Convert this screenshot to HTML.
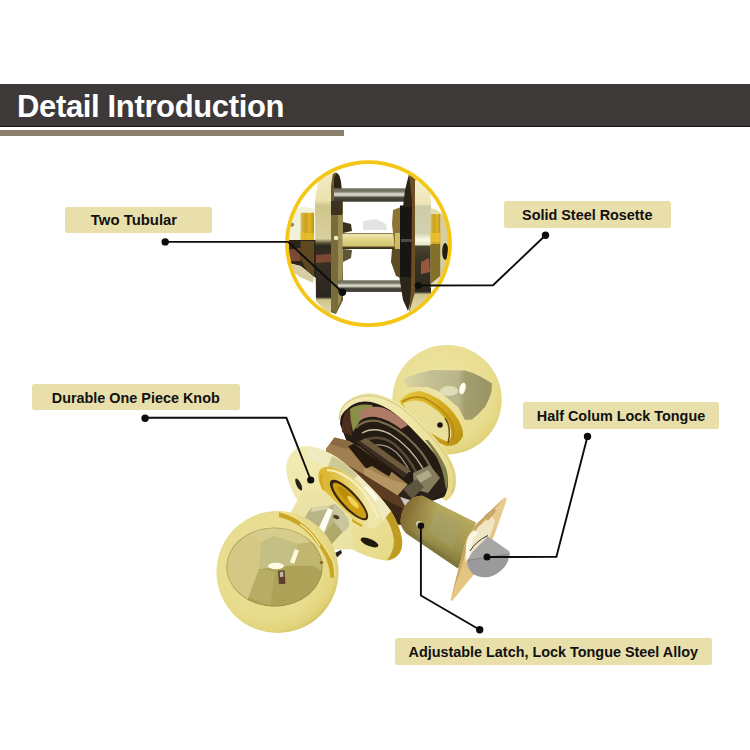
<!DOCTYPE html>
<html>
<head>
<meta charset="utf-8">
<title>Detail Introduction</title>
<style>
html,body{margin:0;padding:0;background:#fff;}
body{width:750px;height:750px;position:relative;overflow:hidden;font-family:"Liberation Sans",sans-serif;}
#bar{position:absolute;left:0;top:84px;width:750px;height:42px;background:#3d3938;border-bottom:1px solid #141210;}
#bar h1{margin:0;position:absolute;left:17px;top:6px;font-size:31px;line-height:34px;font-weight:bold;color:#fff;letter-spacing:-0.35px;white-space:nowrap;}
#stripe{position:absolute;left:0;top:129.5px;width:343.5px;height:6.5px;background:#8b806e;}
.lb{position:absolute;background:#e9dfab;border-radius:2.5px;color:#111;font-weight:bold;font-size:14.4px;text-align:center;white-space:nowrap;}
#art{position:absolute;left:0;top:0;}
</style>
</head>
<body>
<svg id="art" width="750" height="750" viewBox="0 0 750 750">
<defs>
<clipPath id="cc"><circle cx="368.5" cy="243.6" r="80.5"/></clipPath>
<linearGradient id="tube" x1="0" y1="0" x2="0" y2="1">
 <stop offset="0" stop-color="#6a6a5c"/><stop offset="0.25" stop-color="#7d7c69"/><stop offset="0.42" stop-color="#d9d8cc"/><stop offset="0.55" stop-color="#c4c3b4"/><stop offset="0.68" stop-color="#4c4a3f"/><stop offset="1" stop-color="#3a382f"/>
</linearGradient>
<linearGradient id="spin" x1="0" y1="0" x2="0" y2="1">
 <stop offset="0" stop-color="#6b5a2a"/><stop offset="0.1" stop-color="#efe7b4"/><stop offset="0.35" stop-color="#e3d78c"/><stop offset="0.8" stop-color="#d3c46e"/><stop offset="0.9" stop-color="#4a3e20"/><stop offset="1" stop-color="#2e2818"/>
</linearGradient>
<linearGradient id="lrim" x1="0" y1="0" x2="0" y2="1">
 <stop offset="0" stop-color="#f2ebc4"/><stop offset="0.2" stop-color="#ebe2ae"/><stop offset="0.24" stop-color="#cfc58a"/><stop offset="0.47" stop-color="#d9d0a0"/><stop offset="0.5" stop-color="#5a5238"/><stop offset="0.52" stop-color="#2b2820"/><stop offset="0.6" stop-color="#3a3026"/><stop offset="0.88" stop-color="#2a2620"/><stop offset="0.9" stop-color="#cfc48a"/><stop offset="1" stop-color="#e3daa8"/>
</linearGradient>
<linearGradient id="rrim" x1="0" y1="0" x2="0" y2="1">
 <stop offset="0" stop-color="#f4eecb"/><stop offset="0.18" stop-color="#eee6b8"/><stop offset="0.2" stop-color="#cdcba8"/><stop offset="0.4" stop-color="#d2d0b0"/><stop offset="0.45" stop-color="#fbfae8"/><stop offset="0.485" stop-color="#e8e6c8"/><stop offset="0.5" stop-color="#4a4430"/><stop offset="0.6" stop-color="#3a3424"/><stop offset="0.84" stop-color="#2c281c"/><stop offset="0.86" stop-color="#cdc391"/><stop offset="1" stop-color="#e6deb0"/>
</linearGradient>
<linearGradient id="gold1" x1="0" y1="0" x2="1" y2="0">
 <stop offset="0" stop-color="#d8c060"/><stop offset="0.35" stop-color="#c9a21c"/><stop offset="0.7" stop-color="#e2b726"/><stop offset="1" stop-color="#b8921a"/>
</linearGradient>

<radialGradient id="ballA" cx="0.42" cy="0.42" r="0.62">
 <stop offset="0" stop-color="#ebe09a"/><stop offset="0.7" stop-color="#e8dc8e"/><stop offset="0.9" stop-color="#e3d57e"/><stop offset="1" stop-color="#d6c566"/>
</radialGradient>
<radialGradient id="ballB" cx="0.45" cy="0.4" r="0.65">
 <stop offset="0" stop-color="#eee6a6"/><stop offset="0.7" stop-color="#e9dd90"/><stop offset="0.9" stop-color="#e3d57e"/><stop offset="1" stop-color="#d6c566"/>
</radialGradient>
<linearGradient id="reflA" x1="0" y1="0" x2="1" y2="1">
 <stop offset="0" stop-color="#d6cf8e"/><stop offset="0.45" stop-color="#c2b96a"/><stop offset="1" stop-color="#a89c48"/>
</linearGradient>
<linearGradient id="reflB" x1="0" y1="0" x2="1" y2="0">
 <stop offset="0" stop-color="#dcd5a2"/><stop offset="0.35" stop-color="#c2be92"/><stop offset="0.62" stop-color="#b9b58a"/><stop offset="0.7" stop-color="#a49e6e"/><stop offset="1" stop-color="#9a9464"/>
</linearGradient>
<linearGradient id="cyl" gradientUnits="userSpaceOnUse" x1="450" y1="508" x2="430" y2="550">
 <stop offset="0" stop-color="#b8ac60"/><stop offset="0.35" stop-color="#aa9f56"/><stop offset="0.75" stop-color="#9c924c"/><stop offset="1" stop-color="#857c3e"/>
</linearGradient>
<linearGradient id="cylend" gradientUnits="userSpaceOnUse" x1="400" y1="515" x2="428" y2="530">
 <stop offset="0" stop-color="#7a5c2a" stop-opacity="0.85"/><stop offset="1" stop-color="#8a6a30" stop-opacity="0"/>
</linearGradient>
<linearGradient id="goldring" x1="0" y1="0" x2="1" y2="1">
 <stop offset="0" stop-color="#e6c63a"/><stop offset="0.5" stop-color="#d4a91c"/><stop offset="1" stop-color="#b88f14"/>
</linearGradient>
<linearGradient id="face" x1="0" y1="0" x2="0" y2="1">
 <stop offset="0" stop-color="#ead092"/><stop offset="0.5" stop-color="#e2c07e"/><stop offset="1" stop-color="#e6c884"/>
</linearGradient>
<linearGradient id="ros" x1="0" y1="0" x2="1" y2="1">
 <stop offset="0" stop-color="#f2ebb4"/><stop offset="0.5" stop-color="#eee4a2"/><stop offset="1" stop-color="#e6d884"/>
</linearGradient>
<clipPath id="refA"><ellipse cx="274.5" cy="567" rx="48" ry="39.5"/></clipPath>
<linearGradient id="bump" gradientUnits="userSpaceOnUse" x1="336" y1="512" x2="362" y2="484">
 <stop offset="0" stop-color="#dcb836"/><stop offset="0.45" stop-color="#e6cf62"/><stop offset="1" stop-color="#efe6a8"/>
</linearGradient>
</defs>

<g id="lock">
 <!-- back ball -->
 <circle cx="447" cy="399.8" r="54.7" fill="url(#ballB)"/>
 <path d="M403,379 Q417,373 432,370 L465,370.5 Q478,374 492,383.5 L491.5,392 Q489,400 485,407 Q479,414 472,419.5 L465,420 L458,407 L440,392 L428,387 L408,387 Z" fill="url(#reflB)"/>
 <ellipse cx="462.5" cy="388.5" rx="3" ry="6" fill="#fffef0" transform="rotate(15 462.5 388.5)"/>
 <ellipse cx="449" cy="391" rx="9" ry="5" fill="#e9e6c4" opacity="0.8"/>
 <!-- back collar / neck -->
 <path d="M400,401 Q408,391 420,391 Q440,396 453,412 Q464,426 463,436 Q459,446 447,446 Q428,440 414,424 Q402,410 400,401 Z" fill="url(#goldring)"/>
 <path d="M403,404 Q412,398 424,402 Q440,410 449,424 Q454,436 448,442 Q432,436 418,422 Q406,410 403,404 Z" fill="#eadf98"/>
 <path d="M402,402 Q412,395 424,398 Q441,406 451,421 Q456,432 452,440" fill="none" stroke="#b58a12" stroke-width="1.6"/>
 <path d="M445,418 Q452,428 448,443" fill="none" stroke="#6a4a10" stroke-width="1.4"/>
 <circle cx="440" cy="425" r="2.8" fill="#1c160e"/>
 <!-- back rosette rim -->
 <path d="M339,419 Q339,407 346,402 Q354,394 369,393 Q384,394 400,404 Q414,414 426,428 Q438,440 446,452 Q455,466 456,476 Q457,487 453,494 Q450,499 446,501 L404,470 L352,436 Z" fill="url(#ros)"/>
 <path d="M339,419 Q340,408 347,403 Q355,396 369,395.5 Q383,396 399,406 Q413,416 425,430 Q437,442 445,454 Q453,467 454,477 Q455,487 452,493" fill="none" stroke="#cfc27a" stroke-width="1"/>
 <!-- cavity -->
 <path d="M340,424 Q340,414 346,410 Q353,402 364,401.5 Q376,401 390,410 Q404,420 416,433 Q428,445 438,458 Q447,471 448,481 Q448,491 444,497 L420,505 L400,490 L350,450 Z" fill="#241b13"/>
 <path d="M342,432 Q341,414 350,409 L356,412 Q350,420 352,436 Z" fill="#4a2e1e"/>
 <path d="M350,409 Q358,403 372,405 L374,410 Q364,412 358,424 L353,432 Q350,420 350,409 Z" fill="#8a8f48"/>
 <path d="M360,412 Q370,404 384,408 Q396,413 408,425 L401,429 Q388,419 376,417 Q366,416 360,421 Z" fill="#ad7a66"/>
 <path d="M356,428 Q364,419 378,421 Q398,427 414,444 Q428,458 434,476" fill="none" stroke="#7a6a4a" stroke-width="2.2"/>
 <path d="M362,433 Q374,426 390,434 Q410,446 424,470" fill="none" stroke="#c9c0a4" stroke-width="1.4"/>
 <path d="M366,440 Q380,434 394,444 Q408,456 416,472" fill="none" stroke="#5a4a34" stroke-width="2.5"/>
 <path d="M372,446 Q384,442 396,452 Q404,460 410,472" fill="none" stroke="#a09880" stroke-width="1.2"/>
 <path d="M425,440 Q440,458 444,478 L446,490 Q450,480 446,468 Q440,454 428,440 Z" fill="#7f7f4c"/>
 <!-- chassis -->
 <path d="M326,450 L400,494 L414,526 L390,524 L374,505 L360,490 L346,476 L331,464 Z" fill="#3b2615"/>
 <path d="M345,462 L399,495 L406,510 L380,497 L360,478 Z" fill="#5c3c20"/>
 <path d="M326,448.5 L334.5,437.5 L349,441 L360,447 L408,484.5 L398,495.5 L364,474.5 L326,453 Z" fill="#a08050"/>
 <path d="M334.5,437.5 L349,441 L354,444 L346,449 L330,444 Z" fill="#8a6a40"/>
 <path d="M364,467 L392,480 L408,484.5 L398,495.5 L364,474.5 Z" fill="#b59662"/>
 <path d="M348,446.5 L354,443.5 L392,471 L389,476.5 L372,466 L366,468.5 Z" fill="#24180f"/>
 <path d="M356,442 L366,438 L410,470 L404,478 Z" fill="#3a2c1e"/>
 <path d="M360,441 L366,438 L410,470 L407,474 Z" fill="#6e5a3c"/>
 <!-- latch tail (grey) -->
 <path d="M398,495 L408,484 L420,476 L440,470 L446,490 L432,500 L412,504 Z" fill="#2a2218"/>
 <path d="M413,473 L430,465 L440,478 L428,493 L414,489 Z" fill="#857d5e"/>
 <path d="M416,476 L428,470 L432,476 L420,483 Z" fill="#b0a888"/>
 <path d="M403,489 L417,479 L424,487 L412,499 Z" fill="#5e5640"/>
 <path d="M400,497 L410,500 L406,508 Z" fill="#c8c8c0"/>
 <!-- latch cylinder -->
 <path d="M422.6,495.8 L476,522.5 L458,568.5 L405.8,533 Q400,526 400.5,520 Q401,510 408,502 Q414,495 422.6,495.8 Z" fill="url(#cyl)"/>
 <path d="M422.6,495.8 L440,504.5 L424,546 L405.8,533 Q400,526 400.5,520 Q401,510 408,502 Q414,495 422.6,495.8 Z" fill="url(#cylend)"/>
 <path d="M436,510 L462,524 L452,548 L428,532 Z" fill="#a3a272" opacity="0.45"/>
 <path d="M405.8,533 L458,568.5 L459.5,564.5 L406,528 Z" fill="#7d753a" opacity="0.7"/>
 <circle cx="419" cy="524" r="3" fill="#d6cfa0"/>
 <!-- faceplate -->
 <path d="M504.8,497.2 L507,499 L494,536 L476,572 L452,601 L450.4,600.4 L459,567 L466.4,538 L476,524.4 Z" fill="url(#face)"/>
 <path d="M504.8,497.2 L476,524.4 L466.4,538 L459,567 L450.4,600.4 L452.5,593 L461.5,567 L469,540 L478.5,527 Z" fill="#c9a562"/>
 <path d="M478,527 L492,516 L495,521 L490,537 L474,552 L468,560 L467,545 Z" fill="#f1e6c4"/>
 <path d="M466,545 Q467,535 474,530 L478,533 Q471,540 470,558 L465.5,562 Z" fill="#fbf7e6"/>
 <path d="M484,516 L494,508 L496,511 L488,521 Z" fill="#c8a86a"/>
 <!-- tongue -->
 <path d="M467.2,560.4 L509.6,553 Q509,562 504,567.5 Q497,575.5 488,577.2 Q478,578 472,573 Q467,568 467.2,560.4 Z" fill="#9a9a9c"/>
 <path d="M488,536.4 L509.6,551.6 L509.6,554 L467.2,560.4 L472,552.4 L481.6,542.8 Z" fill="#a6a6a4"/>
 <path d="M470,551 Q476,541 488,535.5" fill="none" stroke="#1a1a1a" stroke-width="0.9"/>
 <path d="M467.2,560.4 L509.6,554" fill="none" stroke="#7c7c7c" stroke-width="0.8"/>
 <!-- front rosette -->
 <path d="M286,468 Q287,455 297,448 Q303,445 310,446.3 Q324,449 337,457.5 Q352,468 367,483.5 Q381,497 391,511 Q400,526 402,539 Q403,548 399.6,553 Q395,560 387.5,560.7 Q377,560 366.7,556 Q357,552 349,547.7 L330,530 L300,505 Q287,485 286,468 Z" fill="url(#ros)"/>
 <path d="M384,515 Q392,526 394,540 Q394,552 387,560 Q395,560 399.6,553 Q403,548 402,539 Q400,526 391,511 Z" fill="#bf9c22"/>
 <path d="M310,446.3 Q324,449 337,457.5 Q352,468 367,483.5 Q381,497 391,511 L383,521 Q372,505 358,492 Q344,479 330,470 Q318,462 304,458 Z" fill="#efeac0"/>
 <path d="M332,456 Q346,463 358,475 L350,483 Q340,474 328,467 Z" fill="#cfc996"/>
 <path d="M366,486 Q372,490 378,498 L370,506 Q364,498 358,492 Z" fill="#fdfbe8"/>
 <!-- inner ring bump -->
 <ellipse cx="349.7" cy="497.4" rx="40.5" ry="17" transform="rotate(44 349.7 497.4)" fill="url(#bump)"/>
 <path d="M322,474 Q318,484 330,500 Q344,517 362,526" fill="none" stroke="#d2a820" stroke-width="2.2"/>
 <path d="M327,470 Q340,470 356,484 Q372,500 378,518" fill="none" stroke="#f7f0c4" stroke-width="2"/>
 <ellipse cx="349" cy="500" rx="26.5" ry="8.6" transform="rotate(47 349 500)" fill="#3a260c"/>
 <ellipse cx="349.5" cy="500.5" rx="23.5" ry="6.4" transform="rotate(47 349.5 500.5)" fill="#cf9f12"/>
 <ellipse cx="346" cy="495" rx="12" ry="3.4" transform="rotate(47 346 495)" fill="#b98c10"/>
 <ellipse cx="353" cy="502" rx="8" ry="2.6" transform="rotate(47 353 502)" fill="#f2d458"/>
 <!-- screw holes -->
 <ellipse cx="298.7" cy="484.5" rx="2.3" ry="6.5" transform="rotate(-25 298.7 484.5)" fill="#2a2214"/>
 <ellipse cx="369.5" cy="542.5" rx="9.5" ry="3.6" transform="rotate(22 369.5 542.5)" fill="#1f1a10"/>
 <!-- front neck -->
 <path d="M291,512 Q297,500 304,492 L324,490 L352,518 L353,549 L330,550 L316,562 Z" fill="#ebe2a6"/>
 <path d="M303.7,521.3 Q306,513 311.7,508 L329.8,505.8 L335,504 Q343,510 348,519 L349,525.5 Q347,530 342.6,532 L331,544.7 L322,552 L310,540 Z" fill="#b9b588"/>
 <path d="M333,506 L335,504 Q343,510 348,519 L349,525.5 Q347,530 342.6,532 L336,536 L334,520 Z" fill="#c9c59c"/>
 <path d="M322,536 L334,522 L342.6,532 L331,544.7 L324,550 Z" fill="#b1a96a"/>
 <path d="M316,534 L328,508 L333,510 L322,538 Z" fill="#fffef2"/>
 <path d="M312,508 L329.8,505.8 L328,509 L311,512 Z" fill="#d8d4ae"/>
 <ellipse cx="336.3" cy="517" rx="3.2" ry="1.9" transform="rotate(25 336.3 517)" fill="#4a3c28"/>
 <path d="M335,553 L341,550 L342,553 L337,557.5 Z" fill="#2a2418"/>
 <!-- front ball -->
 <circle cx="277.5" cy="572" r="61" fill="url(#ballA)"/>
 <g clip-path="url(#refA)">
  <rect x="220" y="520" width="110" height="95" fill="#d6cd8c"/>
  <path d="M243.6,529 L261,542 L259,569 L248.8,597 L220,600 L220,520 Z" fill="#d3c984"/>
  <path d="M261,542 L274,536 L298,543.8 L291,565.5 L259,569 Z" fill="#c4bf84"/>
  <path d="M298,543.8 L330,540 L330,575 L314,566 L291,565.5 Z" fill="#c0b670"/>
  <path d="M259,569 L291,565.5 L314,566 L330,575 L330,615 L240,615 L248.8,597 Z" fill="#ada358"/>
  <path d="M259,569 L275,572 L270,606 L248.8,597 Z" fill="#b7ad66"/>
  <ellipse cx="274.5" cy="567" rx="48" ry="39.5" fill="none" stroke="#8a7e30" stroke-width="1.6" opacity="0.55"/>
 </g>
 <ellipse cx="276" cy="566" rx="8" ry="3.2" fill="#fffde6"/>
 <path d="M290,562 L295,549 L299,550.5 L294,564 Z" fill="#fdfadc"/>
 <rect x="278.5" y="570.5" width="6.5" height="13.5" fill="#5e3e2c" transform="rotate(-4 281 577)"/>
 <rect x="280" y="572" width="3.5" height="5" fill="#bdb7a2" transform="rotate(-4 281 577)"/>
 <!-- ball seam -->
 <path d="M279,511.5 Q290,514 298,519.5 Q310,527 319,539.5 Q328,551 333,562 Q335,569 335,577 L330.5,578 Q330,568 326,558 Q321,548 314,540 Q306,530 297,524.5 Q288,519 279,517 Z" fill="#c9a628"/>
 <path d="M279,511.5 Q290,514 298,519.5 Q310,527 319,539.5 Q328,551 333,562 Q335,569 335,577" fill="none" stroke="#efe08a" stroke-width="1.3"/>
 <path d="M300,524 Q312,532 320,546" fill="none" stroke="#f6ecb0" stroke-width="1.4"/>
 <circle cx="321.5" cy="562.5" r="1.8" fill="#8a6a20"/>
</g>


<g clip-path="url(#cc)">
 <!-- left knob body / collar -->
 <path d="M283,214 Q292,207 304,207 L316,209 L316,282 L304,274 Q292,266 283,264 Z" fill="#f4f1da"/>
 <ellipse cx="291.8" cy="224.8" rx="2.5" ry="2" fill="#8a8a6c"/>
 <rect x="300.6" y="212.8" width="13.4" height="28" fill="url(#gold1)"/>
 <rect x="300.6" y="233" width="13.4" height="8" fill="#eabf2a" opacity="0.8"/>
 <path d="M286,240 L316,240 L316,278 L300.6,266 L292.6,264 L286,262 Z" fill="#2c241a"/>
 <path d="M289.4,249.6 L300.6,248 L300.6,261 L289.4,261 Z" fill="#7c4a32"/>
 <path d="M300.6,241 L314,241 L314,277 L306,270 L300.6,258 Z" fill="#5e4820"/>
 <path d="M292.6,264 L300.6,266 L313.4,277 L313.4,283 L300,277 L290,270 Z" fill="#d6cea2"/>
 <!-- left plate inner face -->
 <path d="M331,176 Q337,168 340,178 L343,200 L343,300 L336,314 L330,312 Z" fill="#6d5d2c"/>
 <path d="M334,178 Q338,168 341,182 L342,192 L334,192 Z" fill="#2e2416"/>
 <path d="M331,214 L343,214 L343,262 L341,300 L336,313 L331,310 Z" fill="#7a6c3a"/>
 <path d="M338,214 L343,214 L343,262 L341,300 L338,306 Z" fill="#9c8e56"/>
 <rect x="331" y="201" width="11" height="14" fill="#3d3322"/>
 <circle cx="336" cy="238" r="2.2" fill="#f5efc0"/>
 <!-- left rim -->
 <path d="M318,182 Q324,172 333,172 L331,186 L331,312 L328,314 L316,301 L315,200 Z" fill="url(#lrim)"/>
 <path d="M316,255 L331,254 L331,262 L316,263 Z" fill="#8a4c34" opacity="0.85"/>
 <!-- tubes -->
 <rect x="334" y="188.3" width="71" height="13.4" fill="url(#tube)"/>
 <rect x="338" y="280.3" width="64" height="11.6" fill="url(#tube)"/>
 <!-- white plastic -->
 <path d="M363,221 L376,219 L386,224 L387,230 L363,230 Z" fill="#e3e3e1"/>
 <!-- spindle -->
 <rect x="342.5" y="233" width="53" height="16" fill="url(#spin)"/>
 <path d="M343,222 L351,224 L352,231 L343,233 Z" fill="#3a301e"/>
 <path d="M343,249 L352,250 L351,258 L345,261 L343,262 Z" fill="#5e5638"/>
 <!-- right retaining piece -->
 <path d="M393,210 L401,207 L401,250 L395,250 L392,224 Z" fill="#8d7434"/>
 <rect x="395" y="233" width="6" height="16" fill="#cdbb62"/>
 <path d="M392,249 L401,249 L401,278 L396,276 L391,262 Z" fill="#5b4a22"/>
 <!-- black ring -->
 <rect x="400" y="205.5" width="13" height="72" fill="#171614"/>
 <rect x="401" y="239" width="11" height="3" fill="#4a4a48"/>
 <!-- right plate dark arch + edge -->
 <path d="M409,174 L405,190 L403,207 L413,207 L412,190 Z" fill="#2e2218"/>
 <path d="M399.4,277 L413,277 L412,296 L408,311 L403,300 Z" fill="#2c2618"/>
 <path d="M409,174 L416,180 L416,300 L409,312 L411,290 L412,200 Z" fill="#6e4e24"/>
 <!-- right rim -->
 <path d="M415,180 Q424,182 430,192 L431,200 L431,296 L427,300 L409,313 L415,292 Z" fill="url(#rrim)"/>
 <path d="M421,262 L429,258 L430,272 L421,274 Z" fill="#a35c44" opacity="0.9"/>
 <!-- right collar/knob -->
 <path d="M430.6,208 Q441,210 449,221 Q455,234 455,246 Q454,262 449,272 Q441,282 430.6,288 Z" fill="#e3dcb0"/>
 <path d="M440,213 Q448,220 450,232 L450,262 Q448,272 440,279 Z" fill="#d6ce9c"/>
 <rect x="430.6" y="214" width="9.6" height="32" fill="url(#gold1)"/>
 <rect x="430.6" y="233" width="9.6" height="9" fill="#ecc030" opacity="0.85"/>
 <path d="M430.6,244 L440.2,244 L440.2,276 L430.6,284 Z" fill="#84702a"/>
 <ellipse cx="445.2" cy="251.5" rx="3" ry="8.5" fill="#241e14"/>
</g>
<circle cx="368.5" cy="243.6" r="81.5" fill="none" stroke="#f4c716" stroke-width="3.8"/>

<!--LINES-->
<g fill="none" stroke="#0d0d0d" stroke-width="1.9" stroke-linejoin="miter">
<polyline points="165.2,241.9 288,241.9 342.4,292.3"/>
<polyline points="545.5,235.3 493,285.3 418.3,285.5"/>
<polyline points="145.1,417.8 286.4,417.8 310.7,480"/>
<polyline points="587.5,436.4 556.4,556.8 487,557"/>
<polyline points="479.7,629.7 420.9,595.5 420.9,525.7"/>
</g>
<g fill="#0d0d0d">
<circle cx="165.2" cy="241.9" r="3.7"/><circle cx="342.4" cy="292.3" r="3.7"/>
<circle cx="545.5" cy="235.3" r="3.7"/><circle cx="418.3" cy="285.6" r="3.6"/>
<circle cx="145.1" cy="418.2" r="3.7"/><circle cx="310.7" cy="480" r="3.6"/>
<circle cx="587.5" cy="436.4" r="3.7"/><circle cx="487" cy="557.1" r="3.5"/>
<circle cx="479.7" cy="629.7" r="3.7"/><circle cx="420.9" cy="525.7" r="3.3"/>
</g>
</svg>
<div id="bar"><h1>Detail Introduction</h1></div>
<div id="stripe"></div>
<div class="lb" style="left:65px;top:206.5px;width:147px;height:26.5px;line-height:27.5px;font-size:14.9px;text-indent:-9px;">Two Tubular</div>
<div class="lb" style="left:504px;top:201px;width:166.5px;height:26.5px;line-height:29px;">Solid Steel Rosette</div>
<div class="lb" style="left:31.5px;top:384px;width:208.5px;height:26px;line-height:28px;">Durable One Piece Knob</div>
<div class="lb" style="left:523px;top:402px;width:196px;height:27px;line-height:29px;">Half Colum Lock Tongue</div>
<div class="lb" style="left:395px;top:638px;width:316.5px;height:26.5px;line-height:28px;">Adjustable Latch, Lock Tongue Steel Alloy</div>
</body>
</html>
